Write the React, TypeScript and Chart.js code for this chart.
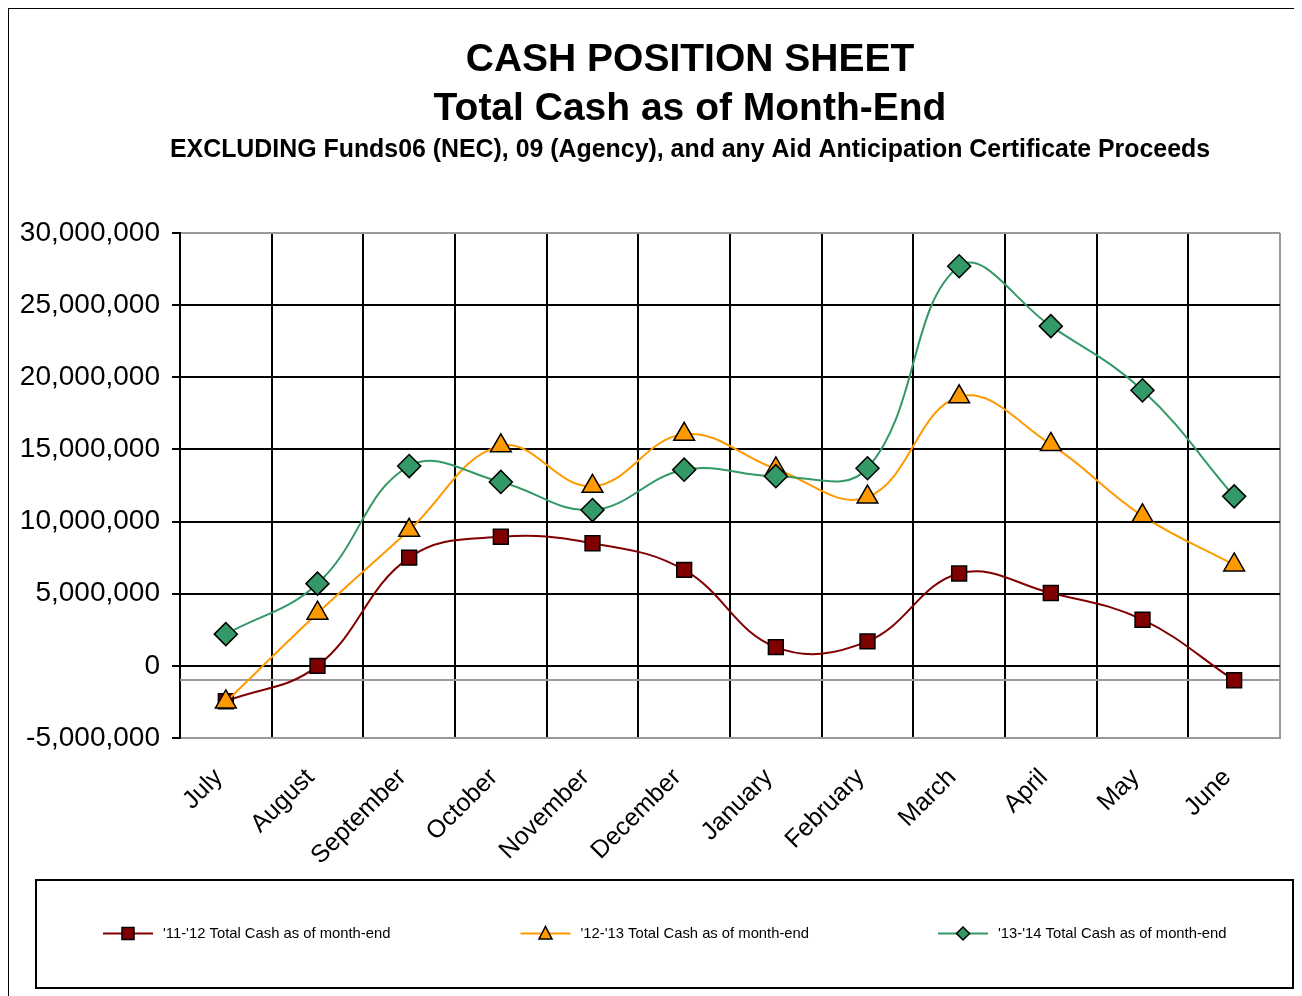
import { useEffect, useRef } from 'react';
import { Chart, registerables } from 'chart.js';

Chart.register(...registerables);

// ---------- data ----------
const MONTHS = ['July', 'August', 'September', 'October', 'November', 'December', 'January', 'February', 'March', 'April', 'May', 'June'];
const SERIES_LABELS = [
  "'11-'12 Total Cash as of month-end",
  "'12-'13 Total Cash as of month-end",
  "'13-'14 Total Cash as of month-end",
];
const CASH_11_12 = [-2450000, 0, 7500000, 8950000, 8500000, 6650000, 1300000, 1700000, 6400000, 5050000, 3200000, -1000000];
const CASH_12_13 = [-2500000, 3650000, 9400000, 15250000, 12450000, 16050000, 13650000, 11700000, 18650000, 15350000, 10400000, 7000000];
const CASH_13_14 = [2200000, 5700000, 13850000, 12750000, 10800000, 13600000, 13150000, 13700000, 27700000, 23550000, 19100000, 11750000];
const Y_TICKS = [-5000000, 0, 5000000, 10000000, 15000000, 20000000, 25000000, 30000000];
const TITLE_LINES = ['CASH POSITION SHEET', 'Total Cash as of Month-End'];
const SUBTITLE = 'EXCLUDING Funds06 (NEC), 09 (Agency), and any Aid Anticipation Certificate Proceeds';
const REFERENCE_LINE_VALUE = -1000000;

// ---------- styles ----------
const COLORS = ['#800000', '#FF9900', '#339966'];
const POINT_STYLES = ['rect', 'triangle', 'rectRot'];
const POINT_RADII = [10.5, 12, 11.5];
const FONT = '"Liberation Sans", Arial, sans-serif';
const LEGEND_FONT_SIZE = 14.8;

function drawSwatch(g: CanvasRenderingContext2D, x: number, y: number, color: string, style: string) {
  g.save();
  g.strokeStyle = color;
  g.lineWidth = 2;
  g.beginPath();
  g.moveTo(x, y);
  g.lineTo(x + 50, y);
  g.stroke();
  const cx = x + 25;
  g.fillStyle = color;
  g.strokeStyle = '#000';
  g.lineWidth = 1.5;
  g.beginPath();
  if (style === 'rect') {
    g.rect(cx - 6, y - 6, 12, 12);
  } else if (style === 'triangle') {
    g.moveTo(cx, y - 7);
    g.lineTo(cx + 6.5, y + 5.5);
    g.lineTo(cx - 6.5, y + 5.5);
    g.closePath();
  } else {
    g.moveTo(cx, y - 6.5);
    g.lineTo(cx + 6.5, y);
    g.lineTo(cx, y + 6.5);
    g.lineTo(cx - 6.5, y);
    g.closePath();
  }
  g.fill();
  g.stroke();
  g.restore();
}

const refLinePlugin = {
  id: 'refLine',
  beforeDatasetsDraw(chart: any) {
    const { ctx, chartArea, scales } = chart;
    const py = Math.round(scales.y.getPixelForValue(REFERENCE_LINE_VALUE));
    ctx.save();
    ctx.strokeStyle = '#9a9a9a';
    ctx.lineWidth = 2;
    ctx.beginPath();
    ctx.moveTo(chartArea.left, py);
    ctx.lineTo(chartArea.right, py);
    ctx.stroke();
    ctx.restore();
  },
};

// Legend drawn in a framed box below the chart (as in the original Excel chart)
const boxLegendPlugin = {
  id: 'boxLegend',
  afterDraw(chart: any) {
    const { ctx } = chart;
    const left = 27;
    const right = 1284;
    const top = 871;
    const bottom = 979;
    const cy = (top + bottom) / 2 - 0.5;
    ctx.save();
    ctx.strokeStyle = '#000';
    ctx.lineWidth = 2;
    ctx.strokeRect(left, top, right - left, bottom - top);
    ctx.font = `${LEGEND_FONT_SIZE}px ${FONT}`;
    ctx.fillStyle = '#000';
    ctx.textAlign = 'left';
    ctx.textBaseline = 'middle';
    const step = 417.5;
    chart.data.datasets.forEach((ds: any, i: number) => {
      const x = left + 67 + i * step;
      drawSwatch(ctx, x, cy, COLORS[i], POINT_STYLES[i]);
      ctx.fillText(ds.label, x + 60, cy);
    });
    ctx.restore();
  },
};

export default function App() {
  const ref = useRef<HTMLCanvasElement | null>(null);

  useEffect(() => {
    document.documentElement.style.overflow = 'hidden';
    document.body.style.overflow = 'hidden';
    if (!ref.current) return;
    const seriesData = [CASH_11_12, CASH_12_13, CASH_13_14];

    const chart = new Chart(ref.current, {
      type: 'line',
      data: {
        labels: MONTHS,
        datasets: seriesData.map((d, i) => ({
          label: SERIES_LABELS[i],
          data: d,
          yAxisID: 'y',
          borderColor: COLORS[i],
          backgroundColor: COLORS[i],
          borderWidth: 2,
          tension: 0.4,
          fill: false,
          pointStyle: POINT_STYLES[i] as any,
          pointRadius: POINT_RADII[i],
          pointHoverRadius: POINT_RADII[i],
          pointBackgroundColor: COLORS[i],
          pointBorderColor: '#000',
          pointBorderWidth: 1.5,
          order: 3 - i,
        })),
      },
      options: {
        responsive: false,
        animation: false,
        events: [],
        layout: { padding: { top: 10, left: 6, right: 0, bottom: 108 } },
        plugins: {
          title: {
            display: true,
            text: TITLE_LINES,
            color: '#000',
            font: { family: FONT, size: 39, weight: 'bold', lineHeight: 1.25 },
            padding: { top: 17, bottom: 0 },
          },
          subtitle: {
            display: true,
            text: SUBTITLE,
            color: '#000',
            font: { family: FONT, size: 24.9, weight: 'bold', lineHeight: 1.2 },
            padding: { top: 2, bottom: 67.7 },
          },
          legend: { display: false },
          tooltip: { enabled: false },
        },
        scales: {
          x: {
            offset: true,
            afterFit: (s: any) => { s.height = 150; },
            grid: {
              offset: true,
              drawTicks: false,
              lineWidth: 2,
              color: (c: any) => (c.index === undefined ? '#9a9a9a' : '#000'),
            },
            border: { display: true, color: '#9a9a9a', width: 2 },
            ticks: {
              autoSkip: false,
              maxRotation: 45,
              minRotation: 45,
              padding: 25,
              labelOffset: -7,
              color: '#000',
              font: { family: FONT, size: 25 },
            },
          },
          y: {
            position: 'left',
            min: Y_TICKS[0],
            max: Y_TICKS[Y_TICKS.length - 1],
            afterFit: (s: any) => { s.width = 165; },
            afterBuildTicks: (s: any) => { s.ticks = Y_TICKS.map((v) => ({ value: v })); },
            grid: {
              lineWidth: 2,
              tickLength: 8,
              tickColor: '#000',
              color: (c: any) => (c.tick && (c.tick.value === Y_TICKS[0] || c.tick.value === Y_TICKS[Y_TICKS.length - 1]) ? '#9a9a9a' : '#000'),
            },
            border: { display: true, color: '#000', width: 2 },
            ticks: {
              padding: 12,
              color: '#000',
              font: { family: FONT, size: 28 },
              callback: (v: any) => Number(v).toLocaleString('en-US'),
            },
          },
          // empty spacer axis on the right so the titles centre like the original
          spacer: {
            type: 'linear',
            position: 'right',
            display: true,
            afterFit: (s: any) => { s.width = 85; },
            grid: { display: false, drawOnChartArea: false },
            border: { display: false },
            ticks: { display: false },
          },
        },
      },
      plugins: [refLinePlugin, boxLegendPlugin],
    } as any);

    return () => chart.destroy();
  }, []);

  return (
    <div
      style={{
        marginLeft: -1,
        marginTop: -1,
        width: 1356,
        height: 987,
        borderLeft: '2px solid #000',
        borderTop: '2px solid #000',
        background: '#fff',
      }}
    >
      <canvas ref={ref} width={1356} height={987} style={{ display: 'block' }} />
    </div>
  );
}
